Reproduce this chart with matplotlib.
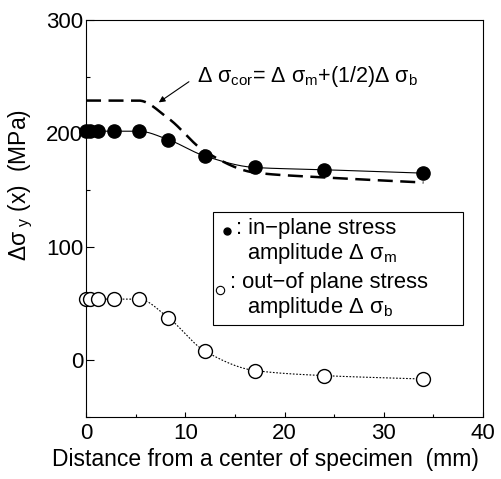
import numpy as np
import matplotlib
matplotlib.use('Agg')
import matplotlib.pyplot as plt
from matplotlib.patches import Rectangle

plt.rcParams['font.family'] = ['Liberation Sans', 'DejaVu Sans']
plt.rcParams['mathtext.default'] = 'regular'

# distance from specimen centre (mm)
dist = [0, 0.4, 1.2, 2.8, 5.3, 8.3, 12, 17, 24, 34]
# in-plane stress amplitude (MPa)
sig_m = [202, 202, 202, 202, 202, 194.5, 180, 170, 168, 165]
# out-of-plane stress amplitude (MPa)
sig_b = [54, 54, 54, 54, 54, 37.5, 8, -9, -13.5, -16.5]


def smooth(x, y, n=300):
    # monotone cubic (Fritsch-Carlson) just for drawing a smooth line
    x = np.asarray(x, float)
    y = np.asarray(y, float)
    h = np.diff(x)
    d = np.diff(y) / h
    m = np.zeros_like(y)
    m[0], m[-1] = d[0], d[-1]
    for i in range(1, len(x) - 1):
        if d[i - 1] * d[i] <= 0:
            m[i] = 0
        else:
            w1 = 2 * h[i] + h[i - 1]
            w2 = h[i] + 2 * h[i - 1]
            m[i] = (w1 + w2) / (w1 / d[i - 1] + w2 / d[i])
    xs = np.linspace(x[0], x[-1], n)
    idx = np.clip(np.searchsorted(x, xs) - 1, 0, len(x) - 2)
    t = (xs - x[idx]) / h[idx]
    h00 = 2 * t**3 - 3 * t**2 + 1
    h10 = t**3 - 2 * t**2 + t
    h01 = -2 * t**3 + 3 * t**2
    h11 = t**3 - t**2
    ys = h00 * y[idx] + h10 * h[idx] * m[idx] + h01 * y[idx + 1] + h11 * h[idx] * m[idx + 1]
    return xs, ys


sig_cor = [m + 0.5 * b for m, b in zip(sig_m, sig_b)]

fig = plt.figure(figsize=(5.01, 4.79), dpi=100)
ax = fig.add_axes([0.1717, 0.1294, 0.7924, 0.8288])

xs, ys = smooth(dist, sig_cor)
ax.plot(xs, ys, color='k', lw=1.8, dashes=(6, 3))
xs, ys = smooth(dist, sig_m)
ax.plot(xs, ys, color='k', lw=0.8)
xs, ys = smooth(dist, sig_b)
ax.plot(xs, ys, color='k', lw=0.8, dashes=(1.5, 1.5))

ax.plot(dist, sig_m, 'o', color='k', ms=9.5, clip_on=False, zorder=5)
ax.plot(dist, sig_b, 'o', mfc='white', mec='k', mew=1.0, ms=10, clip_on=False, zorder=5)

ax.set_xlim(0, 40)
ax.set_ylim(-50, 300)
ax.set_xticks([0, 10, 20, 30, 40])
ax.set_xticks([5, 15, 25, 35], minor=True)
ax.set_yticks([0, 100, 200, 300])
ax.set_yticks([-50, 50, 150, 250], minor=True)
ax.tick_params(axis='both', which='both', direction='in', labelsize=16, width=0.8)
ax.tick_params(axis='y', which='major', length=6, pad=2)
ax.tick_params(axis='y', which='minor', length=3)
ax.tick_params(axis='x', which='major', length=3.5, pad=4)
ax.tick_params(axis='x', which='minor', length=2.5)
for s in ax.spines.values():
    s.set_linewidth(0.8)

ax.set_xlabel('Distance from a center of specimen  (mm)', fontsize=16.5)
ax.xaxis.set_label_coords(0.453, -0.078)
ax.set_ylabel(r'$\Delta\sigma_{\ y}$ (x)  (MPa)', fontsize=16.5)
ax.yaxis.set_label_coords(-0.128, 0.584)

# annotation of the corrected stress curve
ax.annotate('', xy=(7.1, 226), xytext=(10.6, 247),
            arrowprops=dict(arrowstyle='-|>', color='k', lw=0.8, mutation_scale=9))
ax.text(11.2, 250, r'$\Delta$ $\sigma_{cor}$= $\Delta$ $\sigma_m$+(1/2)$\Delta$ $\sigma_b$',
        fontsize=15.5, va='center', ha='left')

# legend box drawn by hand
tr = ax.transAxes
ax.add_patch(Rectangle((0.320, 0.232), 0.630, 0.284, transform=tr,
                       fill=False, ec='k', lw=0.8, zorder=6))
ax.plot([0.355], [0.468], 'o', color='k', ms=5, transform=tr, zorder=6)
ax.plot([0.338], [0.320], 'o', mfc='white', mec='k', mew=0.8, ms=6, transform=tr, zorder=6)
ax.text(0.378, 0.474, ': in\u2212plane stress', transform=tr, fontsize=15.8, va='center')
ax.text(0.405, 0.411, r'amplitude $\Delta$ $\sigma_m$', transform=tr, fontsize=15.8, va='center')
ax.text(0.362, 0.338, ': out\u2212of plane stress', transform=tr, fontsize=15.8, va='center')
ax.text(0.405, 0.275, r'amplitude $\Delta$ $\sigma_b$', transform=tr, fontsize=15.8, va='center')

fig.savefig('out.png', dpi=100)
